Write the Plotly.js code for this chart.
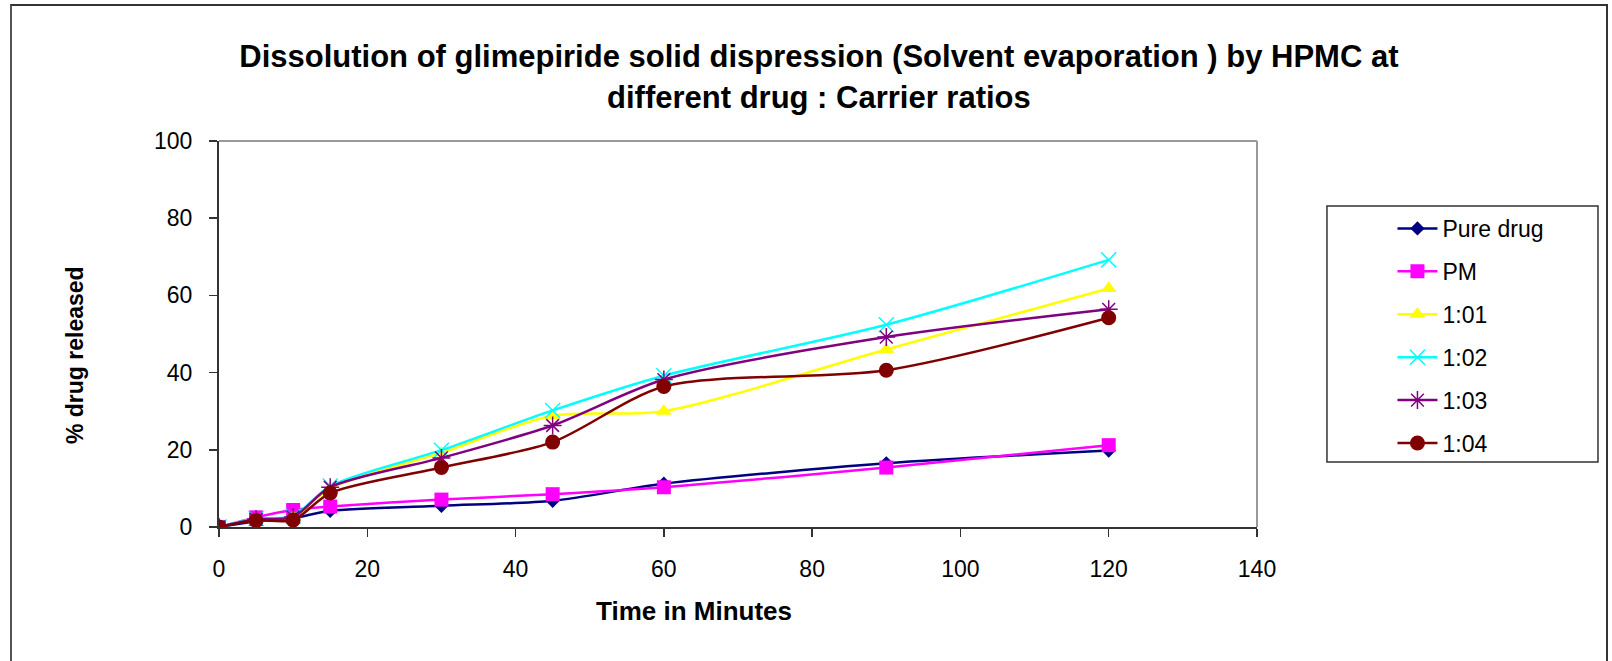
<!DOCTYPE html>
<html>
<head>
<meta charset="utf-8">
<script src="https://cdn.plot.ly/plotly-3.0.1.min.js"></script>
<style>
  html, body { margin: 0; padding: 0; background: #fff; }
  #wrap { position: relative; width: 1612px; height: 661px; overflow: hidden; }
  #chart { width: 1612px; height: 661px; }
  #frame { position: absolute; left: 10px; top: 4px; width: 1598px; height: 700px;
           border-left: 2px solid #555; border-top: 2px solid #333; border-right: 2px solid #333;
           pointer-events: none; box-sizing: border-box; }
</style>
</head>
<body>
<div id="wrap">
  <div id="chart"></div>
  <div id="frame"></div>
</div>
<script>
const timeMin = [0, 5, 10, 15, 30, 45, 60, 90, 120];
const pureDrug = [0, 1.5, 2.3, 4.2, 5.5, 6.8, 11.2, 16.5, 19.8];
const pm       = [0, 2.5, 4.4, 5.3, 7.1, 8.5, 10.3, 15.4, 21.2];
const r101     = [0, 2.0, 2.5, 10.0, 19.2, 28.8, 30.0, 46.0, 61.8];
const r102     = [0, 2.2, 2.8, 10.6, 19.9, 30.2, 39.2, 52.4, 69.2];
const r103     = [0, 2.0, 2.6, 10.3, 17.9, 26.3, 38.2, 49.2, 56.4];
const r104     = [0, 1.7, 1.8, 8.8, 15.4, 22.0, 36.4, 40.6, 54.2];

const seriesNames = ['Pure drug', 'PM', '1:01', '1:02', '1:03', '1:04'];
const seriesData = [pureDrug, pm, r101, r102, r103, r104];
const colors = ['#000080', '#FF00FF', '#FFFF00', '#00FFFF', '#800080', '#800000'];
const symbols = ['diamond', 'square', 'triangle-up', 'x-thin-open', 'asterisk-open', 'circle'];
const sizes = [11, 14, 14, 15, 15, 15];

const traces = seriesNames.map((n, i) => ({
  x: timeMin,
  y: seriesData[i],
  name: n,
  legendgroup: 'g' + i,
  type: 'scatter',
  mode: 'lines+markers',
  line: { color: colors[i], width: 2.5, shape: 'spline', smoothing: 0.8 },
  marker: { color: colors[i], symbol: symbols[i], size: sizes[i],
            line: { color: colors[i], width: (symbols[i].indexOf('open') >= 0) ? 1.5 : 0 } }
}));

const layout = {
  width: 1612, height: 661,
  paper_bgcolor: '#fff', plot_bgcolor: '#fff',
  margin: { l: 219, r: 355, t: 141, b: 134 },
  font: { family: 'Liberation Sans, Arial, sans-serif', color: '#000' },
  title: {
    text: '<b>Dissolution of glimepiride solid dispression (Solvent evaporation ) by HPMC at<br>different drug : Carrier ratios</b>',
    font: { size: 31, family: 'Liberation Sans, Arial, sans-serif', color: '#000' },
    x: 0.508, xanchor: 'center', y: 0.898, yanchor: 'top'
  },
  xaxis: {
    range: [0, 140], tickvals: [0, 20, 40, 60, 80, 100, 120, 140],
    showgrid: false, zeroline: false,
    showline: true, linecolor: '#333', linewidth: 2, mirror: false,
    ticks: 'outside', ticklen: 8, tickwidth: 1.5, tickcolor: '#333',
    tickfont: { size: 23 }, ticklabelstandoff: 12
  },
  yaxis: {
    range: [0, 100], tickvals: [0, 20, 40, 60, 80, 100],
    showgrid: false, zeroline: false,
    showline: true, linecolor: '#333', linewidth: 2,
    ticks: 'outside', ticklen: 8, tickwidth: 1.5, tickcolor: '#333',
    tickfont: { size: 23 }, ticklabelstandoff: 12
  },
  annotations: [
    { text: '<b>Time in Minutes</b>', xref: 'paper', yref: 'paper', x: 0.4576, y: -0.2176,
      xanchor: 'center', yanchor: 'middle', showarrow: false, font: { size: 26 } },
    { text: '<b>% drug released</b>', xref: 'paper', yref: 'paper', x: -0.1387, y: 0.4456,
      xanchor: 'center', yanchor: 'middle', showarrow: false, textangle: -90, font: { size: 23 } }
  ],
  shapes: [
    { type: 'line', xref: 'paper', yref: 'paper', x0: 0, x1: 1, y0: 1, y1: 1, line: { color: '#999', width: 2 } },
    { type: 'line', xref: 'paper', yref: 'paper', x0: 1, x1: 1, y0: 0, y1: 1, line: { color: '#999', width: 2 } },
    { type: 'rect', xref: 'paper', yref: 'paper', x0: 1.0674, x1: 1.3285, y0: 0.1684, y1: 0.8316,
      line: { color: '#333', width: 1.5 }, fillcolor: 'rgba(0,0,0,0)' }
  ],
  legend: {
    x: 1.1305, xanchor: 'left', y: 0.829, yanchor: 'top',
    bgcolor: 'rgba(0,0,0,0)', borderwidth: 0,
    font: { size: 23 }, traceorder: 'grouped', tracegroupgap: 10,
    itemwidth: 40
  },
  showlegend: true
};

Plotly.newPlot('chart', traces, layout, { displayModeBar: false, staticPlot: true });
</script>
</body>
</html>
